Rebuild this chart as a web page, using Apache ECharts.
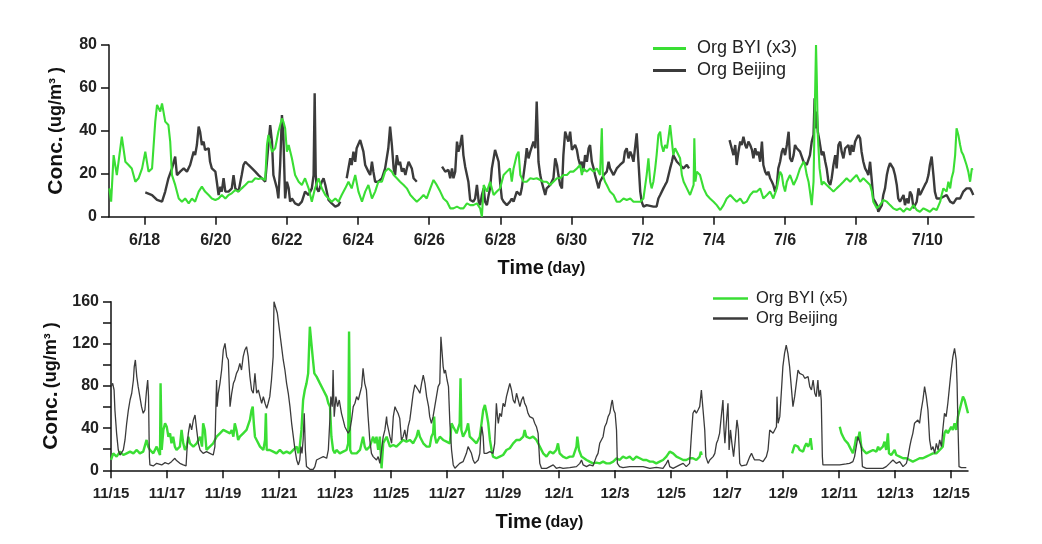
<!DOCTYPE html>
<html>
<head>
<meta charset="utf-8">
<script src="https://cdn.jsdelivr.net/npm/echarts@6/dist/echarts.min.js"></script>
<style>
html,body{margin:0;padding:0;background:#fff;}
#chart{width:1042px;height:544px;}
</style>
</head>
<body>
<div id="chart"></div>
<script>
// ---- Summer panel (day numbers counted in June: 31 = 7/1) ----
const topTickDays = [18,20,22,24,26,28,30,32,34,36,38,40];
const topTickLabels = ['6/18','6/20','6/22','6/24','6/26','6/28','6/30','7/2','7/4','7/6','7/8','7/10'];

const topBYI = [[17.01,13.2],[17.06,7.0],[17.13,28.7],[17.22,19.4],[17.36,37.3],[17.46,25.6],[17.55,24.1],[17.64,22.5],[17.74,16.3],[17.83,17.9],[17.93,22.5],[18.02,30.3],[18.11,21.0],[18.21,22.5],[18.30,44.3],[18.35,52.1],[18.44,49.0],[18.49,52.8],[18.58,44.3],[18.67,42.7],[18.72,35.0],[18.77,19.4],[18.86,14.8],[18.96,8.5],[19.05,7.0],[19.14,8.5],[19.24,6.2],[19.33,8.5],[19.42,7.0],[19.52,11.7],[19.61,14.0],[19.70,11.7],[19.80,10.1],[19.89,8.5],[19.99,7.8],[20.08,8.5],[20.17,10.1],[20.27,8.5],[20.36,10.1],[20.45,10.9],[20.55,12.4],[20.64,11.7],[20.73,13.2],[20.83,14.8],[20.92,16.3],[21.02,16.3],[21.11,17.9],[21.20,17.6],[21.30,17.9],[21.39,17.1],[21.44,33.4],[21.48,38.1],[21.58,30.3],[21.67,31.9],[21.76,39.6],[21.86,45.8],[21.90,44.3],[21.95,41.2],[22.00,30.3],[22.05,33.4],[22.14,27.2],[22.23,19.4],[22.33,16.3],[22.42,14.8],[22.51,17.9],[22.61,13.2],[22.70,7.0],[22.79,13.2],[22.89,17.9],[22.98,13.2],[23.08,10.1],[23.17,8.5],[23.26,7.0],[23.36,8.5],[23.45,7.0],[23.54,10.1],[23.64,13.2],[23.73,16.3],[23.82,13.2],[23.92,19.4],[24.01,11.7],[24.11,7.0],[24.20,11.7],[24.29,14.8],[24.39,8.5],[24.48,11.7],[24.57,16.3],[24.67,16.3],[24.76,21.0],[24.85,22.5],[24.95,21.0],[25.00,19.4],[25.09,17.9],[25.18,16.3],[25.28,14.8],[25.37,13.2],[25.47,10.1],[25.56,8.5],[25.65,7.0],[25.75,8.5],[25.84,10.1],[25.93,8.5],[26.03,13.2],[26.12,17.1],[26.21,14.8],[26.31,11.7],[26.40,8.5],[26.50,7.0],[26.59,3.9],[26.68,3.9],[26.78,4.7],[26.87,3.9],[26.96,3.9],[27.06,6.2],[27.15,5.4],[27.24,5.4],[27.34,6.2],[27.43,3.9],[27.48,0],[27.53,14.8],[27.62,11.7],[27.71,16.3],[27.81,10.1],[27.90,11.7],[27.99,13.2],[28.09,19.4],[28.18,21.0],[28.27,22.5],[28.32,16.3],[28.37,22.5],[28.46,28.7],[28.51,30.3],[28.56,19.4],[28.65,16.3],[28.74,16.3],[28.84,17.9],[28.93,17.6],[29.02,17.9],[29.12,17.1],[29.21,16.3],[29.30,16.3],[29.40,14.8],[29.49,16.3],[29.59,17.9],[29.68,17.9],[29.77,19.4],[29.87,19.4],[29.96,21.0],[30.05,21.0],[30.15,22.5],[30.24,24.1],[30.29,19.4],[30.33,22.5],[30.43,21.0],[30.52,22.5],[30.62,21.0],[30.71,22.5],[30.80,19.4],[30.85,41.2],[30.88,19.4],[30.94,16.3],[30.99,14.8],[31.08,11.7],[31.18,10.1],[31.27,7.0],[31.36,7.0],[31.46,8.5],[31.55,7.8],[31.65,8.5],[31.74,7.0],[31.83,7.0],[31.93,7.0],[32.02,8.5],[32.11,19.4],[32.16,27.2],[32.21,16.3],[32.25,13.2],[32.30,16.3],[32.35,22.5],[32.39,28.7],[32.44,38.1],[32.49,39.6],[32.53,33.4],[32.58,30.3],[32.63,33.4],[32.68,31.9],[32.72,36.5],[32.77,42.7],[32.82,35.0],[32.86,28.7],[32.91,31.9],[32.96,31.9],[33.05,27.2],[33.10,19.4],[33.15,16.3],[33.24,13.2],[33.33,10.1],[33.43,14.8],[33.45,36.5],[33.48,16.3],[33.52,21.0],[33.61,19.4],[33.71,13.2],[33.80,10.1],[33.89,8.5],[33.99,7.0],[34.08,5.4],[34.18,3.1],[34.27,5.4],[34.36,8.5],[34.46,10.1],[34.55,8.5],[34.64,7.0],[34.74,8.5],[34.83,6.2],[34.92,7.0],[35.02,10.1],[35.11,11.7],[35.21,11.7],[35.30,13.2],[35.39,8.5],[35.49,10.1],[35.58,11.7],[35.67,8.5],[35.77,13.2],[35.86,21.0],[35.91,19.4],[35.95,14.8],[36.00,11.7],[36.05,16.3],[36.14,19.4],[36.24,14.8],[36.33,17.9],[36.42,22.5],[36.52,25.6],[36.56,24.1],[36.61,19.4],[36.66,16.3],[36.70,11.7],[36.75,5.4],[36.80,16.3],[36.84,53.6],[36.87,80.0],[36.89,66.0],[36.92,38.1],[36.97,22.5],[37.03,14.8],[37.08,16.3],[37.17,14.8],[37.27,13.2],[37.36,11.7],[37.45,13.2],[37.55,14.8],[37.64,16.3],[37.73,17.9],[37.83,16.3],[37.92,17.9],[38.01,19.4],[38.11,16.3],[38.20,17.9],[38.30,16.3],[38.39,14.8],[38.44,11.7],[38.48,7.0],[38.58,3.9],[38.67,5.4],[38.76,7.8],[38.86,7.0],[38.95,5.4],[39.04,3.9],[39.14,3.1],[39.23,3.9],[39.33,2.3],[39.42,3.9],[39.51,3.1],[39.61,5.4],[39.70,3.1],[39.79,2.3],[39.89,3.9],[39.98,3.1],[40.07,2.3],[40.17,3.9],[40.26,3.1],[40.36,7.0],[40.40,10.1],[40.45,13.2],[40.49,14.0],[40.54,11.7],[40.59,16.3],[40.64,13.2],[40.68,17.9],[40.73,21.0],[40.78,28.7],[40.82,41.2],[40.87,38.1],[40.92,33.4],[40.96,30.3],[41.01,28.7],[41.10,24.1],[41.15,21.0],[41.20,16.3],[41.25,22.5],[41.27,21.8]];

const topBeijing = [[18.02,11.3],[18.21,10.1],[18.35,7.8],[18.49,7.0],[18.58,11.7],[18.67,17.9],[18.77,22.5],[18.86,28.0],[18.91,19.4],[19.00,21.0],[19.10,22.5],[19.19,21.0],[19.28,24.1],[19.38,30.3],[19.42,28.7],[19.47,33.4],[19.52,42.0],[19.56,39.6],[19.61,33.4],[19.66,35.0],[19.70,31.1],[19.80,31.9],[19.84,25.6],[19.89,22.5],[19.99,21.0],[20.03,16.3],[20.08,10.1],[20.13,14.0],[20.17,11.7],[20.22,17.9],[20.27,11.7],[20.36,11.7],[20.45,13.2],[20.50,19.4],[20.55,13.2],[20.64,11.7],[20.73,19.4],[20.78,24.1],[20.83,25.6],[20.92,24.1],[21.02,22.5],[21.11,21.0],[21.20,19.4],[21.30,17.9],[21.39,16.3],[21.48,33.4],[21.53,42.7],[21.58,35.0],[21.62,19.4],[21.67,16.3],[21.72,13.2],[21.76,8.5],[21.81,24.1],[21.86,47.4],[21.90,38.1],[21.95,8.5],[22.00,16.3],[22.05,13.2],[22.09,7.0],[22.14,8.5],[22.23,6.2],[22.33,5.4],[22.42,7.0],[22.51,11.7],[22.61,10.1],[22.70,13.2],[22.75,19.4],[22.78,57.5],[22.81,19.4],[22.84,13.2],[22.89,11.7],[22.98,16.3],[23.03,17.9],[23.08,14.8],[23.17,7.8],[23.26,6.2],[23.36,4.7],[23.45,5.4],[23.50,7.0],[23.59,null],[23.68,17.9],[23.78,27.2],[23.82,24.1],[23.87,30.3],[23.92,25.6],[23.96,31.9],[24.06,35.7],[24.11,35.0],[24.15,30.3],[24.20,24.1],[24.29,21.0],[24.34,19.4],[24.39,25.6],[24.43,21.0],[24.48,16.3],[24.57,16.3],[24.67,17.9],[24.76,22.5],[24.85,31.9],[24.90,42.0],[24.95,33.4],[25.00,22.5],[25.04,19.4],[25.09,28.7],[25.14,24.1],[25.18,25.6],[25.23,21.0],[25.28,22.5],[25.33,19.4],[25.37,22.5],[25.42,25.6],[25.47,26.4],[25.51,22.5],[25.56,17.9],[25.61,17.1],[25.65,16.3],[26.00,null],[26.36,23.3],[26.45,21.0],[26.54,21.8],[26.59,17.9],[26.64,22.5],[26.68,17.9],[26.73,21.0],[26.78,35.0],[26.82,30.3],[26.87,33.4],[26.92,38.1],[26.96,28.7],[27.01,23.3],[27.06,22.5],[27.10,16.3],[27.15,7.8],[27.24,7.0],[27.29,8.5],[27.34,14.8],[27.39,7.0],[27.43,5.4],[27.48,10.1],[27.53,13.2],[27.57,7.0],[27.62,5.4],[27.67,10.1],[27.71,13.2],[27.76,22.5],[27.81,27.2],[27.85,31.1],[27.90,30.3],[27.95,25.6],[27.99,16.3],[28.04,8.5],[28.09,7.0],[28.18,5.4],[28.27,7.0],[28.32,8.5],[28.37,7.0],[28.46,11.7],[28.56,10.1],[28.60,13.2],[28.65,19.4],[28.70,25.6],[28.74,31.9],[28.79,27.2],[28.84,30.3],[28.88,30.3],[28.93,35.0],[28.98,31.9],[29.02,53.6],[29.05,38.1],[29.07,25.6],[29.12,19.4],[29.16,16.3],[29.21,13.2],[29.26,10.1],[29.30,13.2],[29.40,14.8],[29.49,17.9],[29.54,27.2],[29.59,24.1],[29.63,19.4],[29.68,14.8],[29.73,13.2],[29.77,28.7],[29.82,39.6],[29.87,40.4],[29.91,35.0],[29.96,39.6],[30.01,31.1],[30.05,30.3],[30.10,33.4],[30.15,31.1],[30.19,27.2],[30.24,24.1],[30.29,25.6],[30.33,21.0],[30.38,28.7],[30.43,25.6],[30.48,31.9],[30.52,33.4],[30.57,25.6],[30.62,22.5],[30.66,19.4],[30.71,16.3],[30.76,13.2],[30.80,16.3],[30.90,19.4],[30.99,21.0],[31.04,25.6],[31.08,22.5],[31.18,19.4],[31.27,22.5],[31.36,24.1],[31.46,25.6],[31.50,30.3],[31.55,31.9],[31.60,27.2],[31.65,30.3],[31.69,28.7],[31.74,25.6],[31.83,38.8],[31.88,25.6],[31.93,11.7],[31.97,7.0],[32.02,4.7],[32.11,5.4],[32.30,4.7],[32.39,4.7],[32.44,8.5],[32.49,10.1],[32.58,13.2],[32.63,14.8],[32.68,16.3],[32.77,22.5],[32.82,25.6],[32.86,28.7],[32.96,25.6],[33.05,24.1],[33.14,22.5],[33.24,24.1],[33.30,22.5],[33.80,null],[34.44,35.7],[34.50,31.9],[34.55,28.7],[34.60,33.4],[34.64,24.1],[34.69,30.3],[34.74,35.0],[34.78,33.4],[34.83,37.3],[34.88,33.4],[34.92,31.9],[34.97,35.0],[35.02,33.4],[35.07,31.1],[35.11,27.2],[35.16,31.9],[35.21,28.7],[35.25,30.3],[35.30,25.6],[35.35,35.0],[35.39,24.1],[35.44,21.0],[35.49,19.4],[35.53,21.0],[35.58,17.9],[35.63,16.3],[35.67,14.8],[35.72,11.7],[35.77,14.8],[35.81,22.5],[35.86,25.6],[35.91,30.3],[35.95,31.9],[36.00,28.7],[36.05,33.4],[36.10,39.6],[36.14,27.2],[36.19,25.6],[36.24,28.7],[36.28,33.4],[36.33,31.9],[36.42,30.3],[36.52,25.6],[36.61,24.1],[36.70,28.7],[36.75,35.0],[36.80,38.1],[36.83,55.2],[36.85,41.2],[36.89,49.0],[36.92,39.6],[36.97,35.0],[37.03,28.7],[37.08,30.3],[37.13,25.6],[37.17,22.5],[37.22,16.3],[37.27,14.8],[37.31,17.9],[37.36,24.1],[37.41,28.7],[37.45,22.5],[37.50,33.4],[37.55,35.0],[37.59,30.3],[37.64,27.2],[37.69,31.9],[37.73,31.9],[37.78,33.4],[37.83,28.7],[37.87,33.4],[37.92,30.3],[37.97,35.0],[38.01,36.5],[38.06,38.1],[38.11,36.5],[38.15,30.3],[38.20,25.6],[38.25,22.5],[38.30,21.0],[38.34,19.4],[38.39,25.6],[38.44,16.3],[38.48,8.5],[38.53,7.0],[38.58,5.4],[38.62,2.3],[38.67,1.6],[38.72,5.4],[38.76,10.1],[38.81,13.2],[38.86,19.4],[38.90,22.5],[38.95,24.9],[39.00,24.1],[39.04,22.5],[39.09,19.4],[39.14,14.8],[39.18,8.5],[39.23,7.0],[39.28,6.2],[39.33,10.1],[39.37,5.4],[39.42,8.5],[39.47,6.2],[39.51,11.7],[39.56,10.1],[39.61,3.9],[39.65,3.9],[39.70,7.0],[39.75,13.2],[39.79,10.1],[39.84,11.7],[39.89,11.7],[39.93,14.8],[39.98,16.3],[40.03,19.4],[40.07,24.1],[40.12,28.0],[40.17,19.4],[40.21,11.7],[40.26,8.5],[40.36,8.5],[40.45,9.3],[40.54,10.1],[40.64,7.0],[40.73,6.2],[40.82,8.5],[40.92,8.5],[41.01,11.7],[41.10,13.2],[41.20,13.2],[41.25,11.7],[41.29,10.1]];

// ---- Winter panel (day numbers counted in November: 31 = 12/1) ----
const winTickDays = [15,17,19,21,23,25,27,29,31,33,35,37,39,41,43,45];
const winTickLabels = ['11/15','11/17','11/19','11/21','11/23','11/25','11/27','11/29','12/1','12/3','12/5','12/7','12/9','12/11','12/13','12/15'];

const winBYI = [[15.00,9.8],[15.08,16.1],[15.20,13.0],[15.32,17.7],[15.44,14.5],[15.56,16.1],[15.68,17.7],[15.80,16.1],[15.92,19.3],[16.03,16.1],[16.15,17.7],[16.27,28.8],[16.33,22.5],[16.39,19.3],[16.51,16.1],[16.63,22.5],[16.75,14.5],[16.77,82.5],[16.81,19.3],[16.87,38.3],[16.93,44.6],[16.99,41.4],[17.05,31.9],[17.11,35.1],[17.16,25.6],[17.22,31.9],[17.28,22.5],[17.34,19.3],[17.46,22.5],[17.52,38.3],[17.58,25.6],[17.64,19.3],[17.70,22.5],[17.76,31.9],[17.82,25.6],[17.94,22.5],[18.06,25.6],[18.18,31.9],[18.25,22.5],[18.29,44.6],[18.35,38.3],[18.41,19.3],[18.53,22.5],[18.65,25.6],[18.77,31.9],[18.89,35.1],[19.01,38.3],[19.13,36.7],[19.25,35.1],[19.31,38.3],[19.37,31.9],[19.42,44.6],[19.48,38.3],[19.54,28.8],[19.60,31.9],[19.72,35.1],[19.84,38.3],[19.96,47.8],[20.02,57.2],[20.06,60.4],[20.10,44.6],[20.14,31.9],[20.20,28.8],[20.32,22.5],[20.44,19.3],[20.50,28.8],[20.53,54.1],[20.56,19.3],[20.67,19.3],[20.79,17.7],[20.91,16.1],[21.03,19.3],[21.15,16.1],[21.27,17.7],[21.39,16.1],[21.51,19.3],[21.63,22.5],[21.69,16.1],[21.74,22.5],[21.80,38.3],[21.86,66.7],[21.92,76.2],[21.98,82.5],[22.04,92.0],[22.10,136.3],[22.14,137.9],[22.20,107.8],[22.26,92.0],[22.34,88.9],[22.46,82.5],[22.58,76.2],[22.70,69.9],[22.76,63.6],[22.82,60.4],[22.87,31.9],[22.93,19.3],[22.99,16.1],[23.05,19.3],[23.17,16.1],[23.29,17.7],[23.41,19.3],[23.47,25.6],[23.50,131.6],[23.54,19.3],[23.59,16.1],[23.65,17.7],[23.77,16.1],[23.89,19.3],[24.00,31.9],[24.06,22.5],[24.12,19.3],[24.24,22.5],[24.36,31.9],[24.42,25.6],[24.48,31.9],[24.54,19.3],[24.60,31.9],[24.66,1.9],[24.72,25.6],[24.84,31.9],[24.96,22.5],[25.08,24.0],[25.19,22.5],[25.31,25.6],[25.43,28.8],[25.55,27.2],[25.67,28.8],[25.79,25.6],[25.91,31.9],[25.97,38.3],[26.03,31.9],[26.15,25.6],[26.27,22.5],[26.38,22.5],[26.44,31.9],[26.50,35.1],[26.54,50.9],[26.57,31.9],[26.62,25.6],[26.74,31.9],[26.86,28.8],[26.98,27.2],[27.10,25.6],[27.16,44.6],[27.22,41.4],[27.28,38.3],[27.34,35.1],[27.40,35.1],[27.45,44.6],[27.48,87.3],[27.51,38.3],[27.57,31.9],[27.69,38.3],[27.75,44.6],[27.81,31.9],[27.93,28.8],[28.05,25.6],[28.17,31.9],[28.23,44.6],[28.29,57.2],[28.35,62.0],[28.41,54.1],[28.47,44.6],[28.53,28.8],[28.59,19.3],[28.64,13.0],[28.76,11.4],[28.88,13.0],[29.00,14.5],[29.12,19.3],[29.24,20.9],[29.36,25.6],[29.48,28.8],[29.60,28.8],[29.72,31.9],[29.77,38.3],[29.83,31.9],[29.95,30.4],[30.07,31.9],[30.13,33.5],[30.19,28.8],[30.25,25.6],[30.31,22.5],[30.43,16.1],[30.55,13.0],[30.67,17.7],[30.79,16.1],[30.90,19.3],[30.96,25.6],[31.02,16.1],[31.14,13.0],[31.26,11.4],[31.38,13.0],[31.50,13.0],[31.62,22.5],[31.65,31.9],[31.71,19.3],[31.80,13.0],[31.86,11.4],[31.98,9.8],[32.09,8.2],[32.21,6.6],[32.33,7.3],[32.45,6.6],[32.57,8.2],[32.69,6.6],[32.81,6.6],[32.93,8.2],[33.05,11.4],[33.16,9.8],[33.28,13.0],[33.40,11.4],[33.52,13.0],[33.64,9.8],[33.76,13.0],[33.88,11.4],[34.00,9.8],[34.12,9.8],[34.24,8.2],[34.35,8.2],[34.47,6.6],[34.59,8.2],[34.71,9.8],[34.83,13.0],[34.95,17.7],[35.07,16.1],[35.19,13.0],[35.31,11.4],[35.43,9.8],[35.54,9.8],[35.66,11.4],[35.78,11.4],[35.90,9.8],[36.02,13.0],[36.06,17.7],[36.09,14.5],[37.50,null],[39.32,16.1],[39.41,24.0],[39.47,25.6],[39.53,22.5],[39.59,19.3],[39.71,17.7],[39.77,22.5],[39.83,25.6],[39.89,22.5],[39.95,25.6],[39.98,30.4],[40.03,19.3],[40.50,null],[41.02,41.4],[41.08,35.1],[41.14,31.9],[41.20,28.8],[41.25,28.8],[41.31,25.6],[41.37,22.5],[41.43,19.3],[41.49,16.1],[41.55,22.5],[41.61,31.9],[41.67,28.8],[41.73,36.7],[41.79,22.5],[41.85,19.3],[41.97,16.1],[42.09,17.7],[42.21,19.3],[42.33,17.7],[42.39,22.5],[42.44,19.3],[42.56,22.5],[42.62,27.2],[42.68,19.3],[42.74,35.1],[42.78,16.1],[42.86,14.5],[42.92,13.0],[42.98,19.3],[43.04,14.5],[43.16,13.0],[43.28,11.4],[43.40,11.4],[43.52,9.8],[43.63,8.2],[43.75,9.8],[43.87,11.4],[43.99,11.4],[44.11,13.0],[44.23,14.5],[44.35,16.1],[44.47,16.1],[44.59,19.3],[44.70,22.5],[44.76,35.1],[44.82,38.3],[44.88,35.1],[44.94,38.3],[45.00,41.4],[45.06,38.3],[45.12,44.6],[45.18,38.3],[45.24,50.9],[45.30,57.2],[45.36,63.6],[45.42,69.9],[45.48,66.7],[45.54,60.4],[45.60,54.1]];

const winBeijing = [[15.00,79.4],[15.06,82.5],[15.11,76.2],[15.14,57.2],[15.20,35.1],[15.26,19.3],[15.32,14.5],[15.38,16.1],[15.44,19.3],[15.50,28.8],[15.56,44.6],[15.62,57.2],[15.68,66.7],[15.74,73.1],[15.80,85.7],[15.83,98.4],[15.87,104.7],[15.92,88.9],[15.97,79.4],[16.03,69.9],[16.09,60.4],[16.15,54.1],[16.21,57.2],[16.27,76.2],[16.31,85.7],[16.34,69.9],[16.37,13.0],[16.39,5.1],[16.51,4.1],[16.63,6.6],[16.69,8.2],[16.81,5.1],[16.93,7.3],[17.05,6.0],[17.16,8.2],[17.28,11.4],[17.34,9.2],[17.46,6.6],[17.58,5.1],[17.68,4.1],[17.72,22.5],[17.76,35.1],[17.82,44.6],[17.88,38.3],[17.94,47.8],[18.00,52.5],[18.06,38.3],[18.12,25.6],[18.18,19.3],[18.29,16.1],[18.41,17.7],[18.53,16.1],[18.65,14.5],[18.71,22.5],[18.77,85.7],[18.79,60.4],[18.83,73.1],[18.89,82.5],[18.95,95.2],[19.01,114.2],[19.07,120.5],[19.13,107.8],[19.19,104.7],[19.25,60.4],[19.31,73.1],[19.37,82.5],[19.42,85.7],[19.48,92.0],[19.54,95.2],[19.60,101.5],[19.66,95.2],[19.72,107.8],[19.78,114.2],[19.84,117.3],[19.90,107.8],[19.96,88.9],[20.02,76.2],[20.08,73.1],[20.14,92.0],[20.20,73.1],[20.26,76.2],[20.32,69.9],[20.38,63.6],[20.44,69.9],[20.50,63.6],[20.56,58.8],[20.61,63.6],[20.67,69.9],[20.73,85.7],[20.79,107.8],[20.82,160.0],[20.89,158.4],[20.94,149.0],[20.97,142.6],[21.03,130.0],[21.09,117.3],[21.15,104.7],[21.21,95.2],[21.27,82.5],[21.33,73.1],[21.39,60.4],[21.45,44.6],[21.51,31.9],[21.57,19.3],[21.63,9.8],[21.69,5.1],[21.74,9.8],[21.78,22.5],[21.82,16.1],[21.86,28.8],[21.90,54.1],[21.94,19.3],[21.98,3.5],[22.10,0.9],[22.22,0.9],[22.28,3.5],[22.34,9.8],[22.46,11.4],[22.58,13.0],[22.70,11.4],[22.76,19.3],[22.82,50.9],[22.85,69.9],[22.90,60.4],[22.93,95.2],[22.97,50.9],[23.03,69.9],[23.09,60.4],[23.15,66.7],[23.23,54.1],[23.29,47.8],[23.35,41.4],[23.41,38.3],[23.47,35.1],[23.53,38.3],[23.59,47.8],[23.65,60.4],[23.71,63.6],[23.77,69.9],[23.83,66.7],[23.89,73.1],[23.95,79.4],[24.00,96.8],[24.06,82.5],[24.12,76.2],[24.18,50.9],[24.24,28.8],[24.30,16.1],[24.36,13.0],[24.42,11.4],[24.48,9.8],[24.54,13.0],[24.60,6.6],[24.66,19.3],[24.72,31.9],[24.78,38.3],[24.84,50.9],[24.86,44.6],[24.96,31.9],[25.02,25.6],[25.08,50.9],[25.14,60.4],[25.19,57.2],[25.25,54.1],[25.31,49.3],[25.37,28.8],[25.43,31.9],[25.49,38.3],[25.55,28.8],[25.61,41.4],[25.67,47.8],[25.73,60.4],[25.79,73.1],[25.85,81.0],[25.91,79.4],[25.97,76.2],[26.03,73.1],[26.09,82.5],[26.15,90.4],[26.21,82.5],[26.27,69.9],[26.34,60.4],[26.38,50.9],[26.44,44.6],[26.50,50.9],[26.56,60.4],[26.62,69.9],[26.68,79.4],[26.74,82.5],[26.78,126.8],[26.82,125.2],[26.86,98.4],[26.90,92.0],[26.94,95.2],[27.00,85.7],[27.05,79.4],[27.10,44.6],[27.16,19.3],[27.22,5.1],[27.28,1.9],[27.34,3.5],[27.45,6.6],[27.57,8.2],[27.63,9.8],[27.69,16.1],[27.75,22.5],[27.81,20.9],[27.87,16.1],[27.93,9.8],[27.99,6.6],[28.05,8.2],[28.11,9.8],[28.17,16.1],[28.20,31.9],[28.24,41.4],[28.29,31.9],[28.32,16.1],[28.41,16.1],[28.53,17.7],[28.64,16.1],[28.70,25.6],[28.76,63.6],[28.80,50.9],[28.83,44.6],[28.88,54.1],[28.94,50.9],[29.00,63.6],[29.06,60.4],[29.12,69.9],[29.18,76.2],[29.24,82.5],[29.30,76.2],[29.36,66.7],[29.42,63.6],[29.48,73.1],[29.54,66.7],[29.60,60.4],[29.66,66.7],[29.72,69.9],[29.77,63.6],[29.83,60.4],[29.89,54.1],[29.95,50.9],[30.01,50.9],[30.07,49.3],[30.13,44.6],[30.19,41.4],[30.25,35.1],[30.31,6.6],[30.37,1.9],[30.55,1.9],[30.67,3.5],[30.79,5.1],[30.90,1.9],[31.02,2.8],[31.14,1.9],[31.38,2.5],[31.62,3.5],[31.74,6.6],[31.80,9.8],[31.86,5.1],[31.98,3.5],[32.09,5.1],[32.21,4.1],[32.33,13.0],[32.39,16.1],[32.45,25.6],[32.51,28.8],[32.57,31.9],[32.63,41.4],[32.69,44.6],[32.75,50.9],[32.81,54.1],[32.87,63.6],[32.90,66.7],[32.95,57.2],[33.00,54.1],[33.05,38.3],[33.08,6.6],[33.16,3.5],[33.28,2.5],[33.52,3.5],[33.76,3.5],[34.00,3.5],[34.24,1.9],[34.47,2.8],[34.71,1.9],[34.83,6.6],[34.89,9.8],[34.95,3.5],[35.07,1.9],[35.19,3.5],[35.31,5.1],[35.43,6.6],[35.54,3.5],[35.66,6.6],[35.72,31.9],[35.78,54.1],[35.84,57.2],[35.90,54.1],[35.96,57.2],[36.02,60.4],[36.08,76.2],[36.14,57.2],[36.20,38.3],[36.24,13.0],[36.32,6.6],[36.38,9.8],[36.44,11.4],[36.50,13.0],[36.56,16.1],[36.62,25.6],[36.67,28.8],[36.73,35.1],[36.79,50.9],[36.85,66.7],[36.89,38.3],[36.92,25.6],[36.97,44.6],[37.03,63.6],[37.07,19.3],[37.12,38.3],[37.17,25.6],[37.23,13.0],[37.29,28.8],[37.35,47.8],[37.40,38.3],[37.45,6.6],[37.51,4.1],[37.57,3.5],[37.69,5.1],[37.81,13.0],[37.87,16.1],[37.92,13.0],[37.98,9.8],[38.04,8.2],[38.16,9.8],[38.28,8.2],[38.34,9.8],[38.40,13.0],[38.46,19.3],[38.52,38.3],[38.58,38.3],[38.64,35.1],[38.70,38.3],[38.76,41.4],[38.78,69.9],[38.82,44.6],[38.88,50.9],[38.94,76.2],[38.99,98.4],[39.05,111.0],[39.11,118.9],[39.17,111.0],[39.23,98.4],[39.29,79.4],[39.35,60.4],[39.41,69.9],[39.47,82.5],[39.53,95.2],[39.59,92.0],[39.65,93.6],[39.71,90.4],[39.77,87.3],[39.83,85.7],[39.89,88.9],[39.95,79.4],[40.01,76.2],[40.07,85.7],[40.13,73.1],[40.18,69.9],[40.24,85.7],[40.28,69.9],[40.33,76.2],[40.36,66.7],[40.40,13.0],[40.42,5.1],[40.54,5.1],[40.78,5.1],[41.02,5.1],[41.25,6.0],[41.37,6.6],[41.49,8.2],[41.55,13.0],[41.61,22.5],[41.67,31.9],[41.73,31.9],[41.79,22.5],[41.83,3.5],[41.97,1.9],[42.33,1.9],[42.56,1.9],[42.68,3.5],[42.80,6.6],[42.92,9.8],[43.04,6.6],[43.16,8.2],[43.28,3.5],[43.40,6.6],[43.46,13.0],[43.52,22.5],[43.57,28.8],[43.63,35.1],[43.69,44.6],[43.75,44.6],[43.81,47.8],[43.87,44.6],[43.93,57.2],[43.99,66.7],[44.05,79.4],[44.11,69.9],[44.17,57.2],[44.23,28.8],[44.29,19.3],[44.35,22.5],[44.41,16.1],[44.47,25.6],[44.53,19.3],[44.59,28.8],[44.65,22.5],[44.70,38.3],[44.76,54.1],[44.82,50.9],[44.88,63.6],[44.94,79.4],[45.00,95.2],[45.06,107.8],[45.12,115.7],[45.18,104.7],[45.21,82.5],[45.24,44.6],[45.28,3.5],[45.36,2.5],[45.54,2.5]];

const GREEN = '#3ade34';
const DARK = '#3b3b3b';
const FONT = "'Liberation Sans', Arial, Helvetica, sans-serif";

function prep(arr){ return arr.map(p => [p[0], p[1] === null ? '-' : p[1]]); }
function labelFor(days, labels){
  return function(v){ const i = days.indexOf(Math.round(v)); return i >= 0 ? labels[i] : ''; };
}
const axisLineStyle = {color:'#111', width:1.5};
function xAxisCfg(grid, min, max, days, labels, fs){
  return {
    gridIndex: grid, type:'value', min:min, max:max,
    axisLine:{show:true, onZero:false, lineStyle:axisLineStyle},
    axisTick:{show:true, customValues:days, length:8, lineStyle:axisLineStyle},
    axisLabel:{customValues:days, formatter:labelFor(days, labels), margin:16,
      fontSize:fs, fontWeight:'bold', color:'#222', fontFamily:FONT},
    splitLine:{show:false},
    name:'{a|Time} {b|(day)}', nameLocation:'middle', nameGap:42,
    nameTextStyle:{rich:{
      a:{fontSize:20, fontWeight:'bold', color:'#111', fontFamily:FONT},
      b:{fontSize:16, fontWeight:'bold', color:'#111', fontFamily:FONT}
    }}
  };
}
function yAxisCfg(grid, max, labelStep){
  return {
    gridIndex: grid, type:'value', min:0, max:max, interval:20,
    axisLine:{show:true, lineStyle:axisLineStyle},
    axisTick:{show:true, length:8, lineStyle:axisLineStyle},
    axisLabel:{margin:12, fontSize:16, fontWeight:'bold', color:'#222', fontFamily:FONT,
      formatter: v => (v % labelStep === 0 ? String(v) : '')},
    splitLine:{show:false},
    name:'{a|Conc.} {b|(ug/m³ )}', nameLocation:'middle', nameRotate:90, nameGap:42,
    nameTextStyle:{rich:{
      a:{fontSize:21, fontWeight:'bold', color:'#111', fontFamily:FONT},
      b:{fontSize:18, fontWeight:'bold', color:'#111', fontFamily:FONT}
    }}
  };
}

const chart = echarts.init(document.getElementById('chart'), null, {renderer:'canvas'});
chart.setOption({
  animation:false,
  backgroundColor:'#fff',
  grid:[
    {left:109, top:45, width:865, height:171.7},
    {left:111, top:301.7, width:857, height:168.6}
  ],
  xAxis:[
    xAxisCfg(0, 17, 41.31, topTickDays, topTickLabels, 16),
    xAxisCfg(1, 15, 45.6, winTickDays, winTickLabels, 15)
  ],
  yAxis:[ yAxisCfg(0, 80, 20), yAxisCfg(1, 160, 40) ],
  legend:[
    {data:[{name:'Org BYI (x3)', icon:'rect', itemStyle:{color:GREEN}},
           {name:'Org Beijing', icon:'rect', itemStyle:{color:DARK}}],
     orient:'vertical', left:653, top:38, padding:0,
     itemWidth:33, itemHeight:3, itemGap:1, selectedMode:false,
     textStyle:{fontSize:18, lineHeight:21, color:'#222', fontFamily:FONT, padding:[0,0,0,6]}},
    {data:[{name:'Org BYI (x5)', icon:'rect', itemStyle:{color:GREEN}},
           {name:'Org Beijing (winter)', icon:'rect', itemStyle:{color:DARK}}],
     orient:'vertical', left:713, top:289, padding:0,
     itemWidth:35, itemHeight:2.5, itemGap:1, selectedMode:false,
     formatter: n => n === 'Org Beijing (winter)' ? 'Org Beijing' : n,
     textStyle:{fontSize:16.5, lineHeight:19, color:'#222', fontFamily:FONT, padding:[0,0,0,3]}}
  ],
  series:[
    {name:'Org Beijing', type:'line', xAxisIndex:0, yAxisIndex:0, data:prep(topBeijing),
     symbol:'none', connectNulls:false, z:2, color:DARK, lineStyle:{color:DARK, width:2.4}},
    {name:'Org BYI (x3)', type:'line', xAxisIndex:0, yAxisIndex:0, data:prep(topBYI),
     symbol:'none', connectNulls:false, z:3, color:GREEN, lineStyle:{color:GREEN, width:2.1}},
    {name:'Org BYI (x5)', type:'line', xAxisIndex:1, yAxisIndex:1, data:prep(winBYI),
     symbol:'none', connectNulls:false, z:2, color:GREEN, lineStyle:{color:GREEN, width:2.4}},
    {name:'Org Beijing (winter)', type:'line', xAxisIndex:1, yAxisIndex:1, data:prep(winBeijing),
     symbol:'none', connectNulls:false, z:3, color:DARK, lineStyle:{color:DARK, width:1.3}}
  ]
});
</script>
</body>
</html>
